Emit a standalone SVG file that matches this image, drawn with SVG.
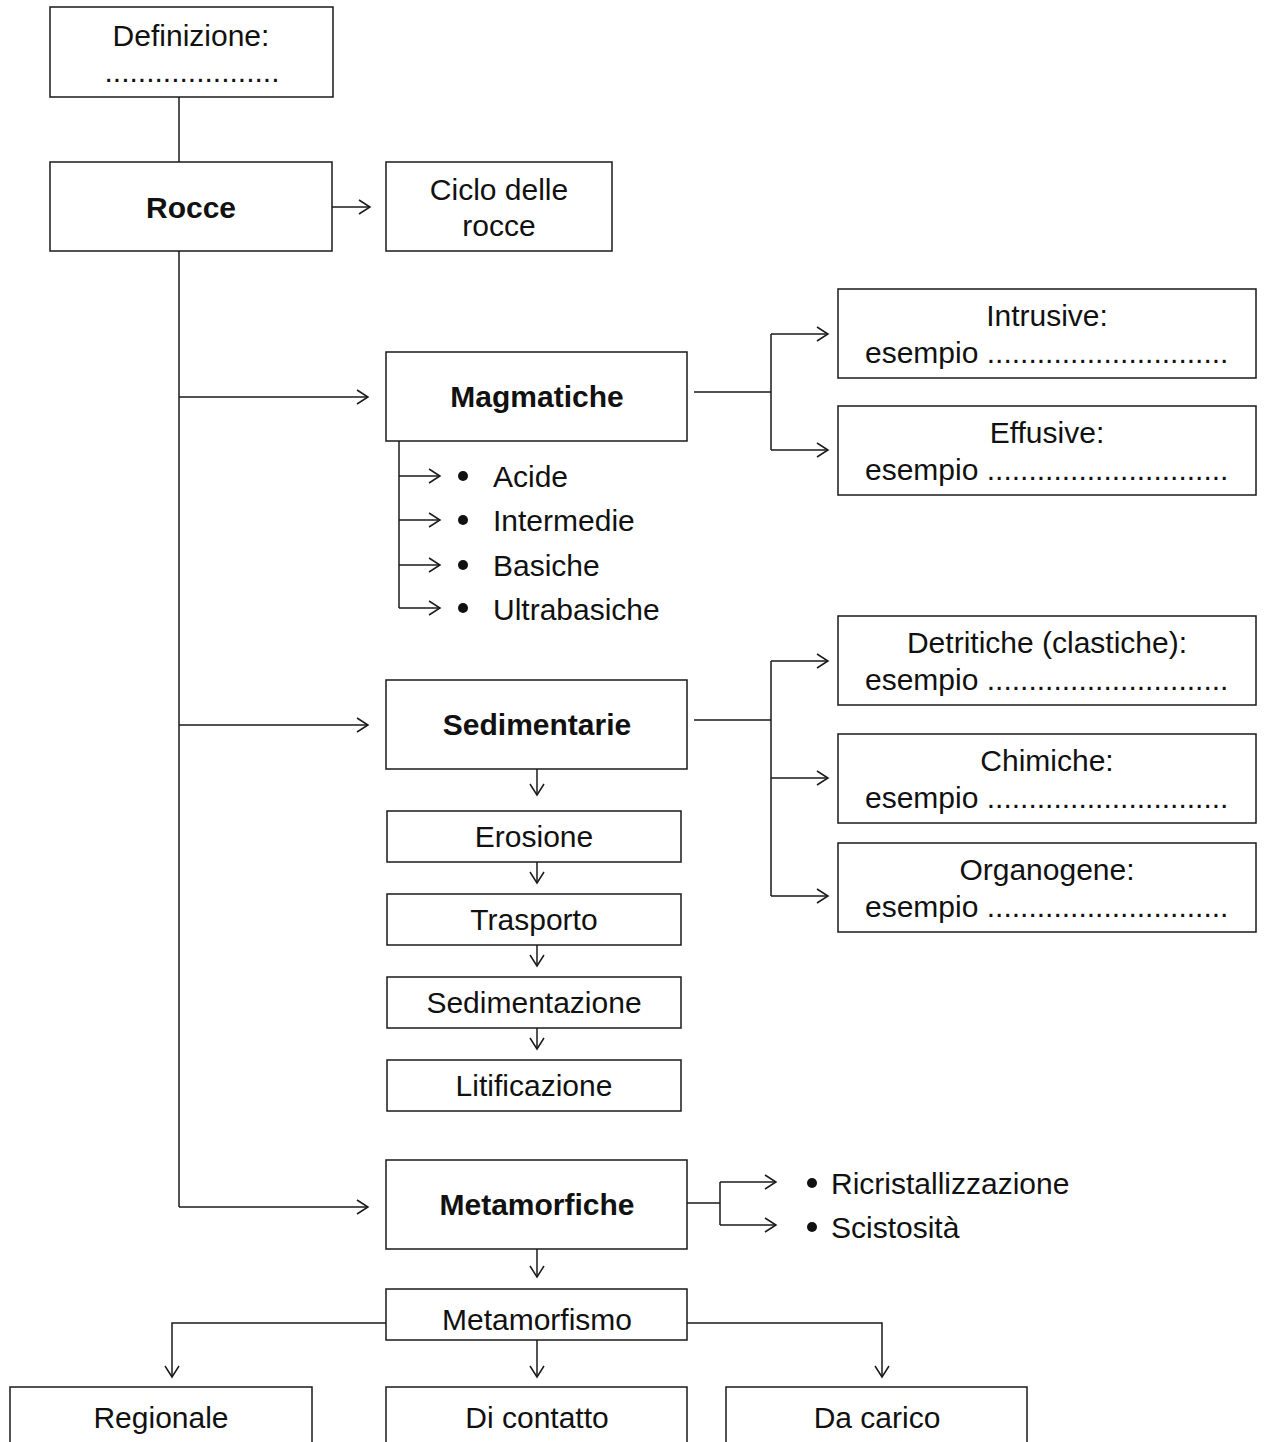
<svg xmlns="http://www.w3.org/2000/svg" width="1266" height="1442" viewBox="0 0 1266 1442">
<style>
.box{fill:#fff;stroke:#1a1a1a;stroke-width:1.5}
.ln{fill:none;stroke:#1a1a1a;stroke-width:1.5}
text{font-family:"Liberation Sans",Arial,sans-serif;font-size:30px;fill:#111}
.c{text-anchor:middle}
.b{font-weight:bold}
</style>
<defs>
<marker id="ah" markerUnits="userSpaceOnUse" markerWidth="14" markerHeight="18" refX="12" refY="8" orient="auto">
<path d="M1,1 L12,8 L1,15" fill="none" stroke="#1a1a1a" stroke-width="1.5"/>
</marker>
</defs>
<rect width="1266" height="1442" fill="#fff"/>
<g id="connectors">
<line class="ln" x1="179" y1="97" x2="179" y2="162"/>
<line class="ln" x1="332" y1="207" x2="370" y2="207" marker-end="url(#ah)"/>
<line class="ln" x1="179" y1="251" x2="179" y2="1207"/>
<line class="ln" x1="179" y1="397" x2="368" y2="397" marker-end="url(#ah)"/>
<line class="ln" x1="179" y1="725" x2="368" y2="725" marker-end="url(#ah)"/>
<line class="ln" x1="179" y1="1207" x2="368" y2="1207" marker-end="url(#ah)"/>
<path class="ln" d="M399,441 V608"/>
<line class="ln" x1="399" y1="476" x2="440" y2="476" marker-end="url(#ah)"/>
<line class="ln" x1="399" y1="520" x2="440" y2="520" marker-end="url(#ah)"/>
<line class="ln" x1="399" y1="565" x2="440" y2="565" marker-end="url(#ah)"/>
<line class="ln" x1="399" y1="608" x2="440" y2="608" marker-end="url(#ah)"/>
<path class="ln" d="M694,392 H771 M771,334 V450"/>
<line class="ln" x1="771" y1="334" x2="828" y2="334" marker-end="url(#ah)"/>
<line class="ln" x1="771" y1="450" x2="828" y2="450" marker-end="url(#ah)"/>
<path class="ln" d="M694,720 H771 M771,661 V896"/>
<line class="ln" x1="771" y1="661" x2="828" y2="661" marker-end="url(#ah)"/>
<line class="ln" x1="771" y1="778" x2="828" y2="778" marker-end="url(#ah)"/>
<line class="ln" x1="771" y1="896" x2="828" y2="896" marker-end="url(#ah)"/>
<line class="ln" x1="537" y1="769" x2="537" y2="795" marker-end="url(#ah)"/>
<line class="ln" x1="537" y1="862" x2="537" y2="883" marker-end="url(#ah)"/>
<line class="ln" x1="537" y1="945" x2="537" y2="966" marker-end="url(#ah)"/>
<line class="ln" x1="537" y1="1028" x2="537" y2="1049" marker-end="url(#ah)"/>
<path class="ln" d="M687,1203 H720 M720,1182 V1225"/>
<line class="ln" x1="720" y1="1182" x2="776" y2="1182" marker-end="url(#ah)"/>
<line class="ln" x1="720" y1="1225" x2="776" y2="1225" marker-end="url(#ah)"/>
<line class="ln" x1="537" y1="1249" x2="537" y2="1277" marker-end="url(#ah)"/>
<path class="ln" d="M386,1323 H172 V1377" marker-end="url(#ah)"/>
<path class="ln" d="M687,1323 H882 V1377" marker-end="url(#ah)"/>
<line class="ln" x1="537" y1="1340" x2="537" y2="1377" marker-end="url(#ah)"/>
</g>
<g id="definizione">
<rect class="box" x="50" y="7" width="283" height="90"/>
<text class="c" x="191" y="46">Definizione:</text>
<text class="c" x="192" y="82">.....................</text>
</g>
<g id="rocce">
<rect class="box" x="50" y="162" width="282" height="89"/>
<text class="c b" x="191" y="218">Rocce</text>
</g>
<g id="ciclo">
<rect class="box" x="386" y="162" width="226" height="89"/>
<text class="c" x="499" y="200">Ciclo delle</text>
<text class="c" x="499" y="236">rocce</text>
</g>
<g id="magmatiche">
<rect class="box" x="386" y="352" width="301" height="89"/>
<text class="c b" x="537" y="407">Magmatiche</text>
</g>
<g id="magma-list">
<circle cx="463" cy="476" r="5" fill="#111"/>
<text x="493" y="487">Acide</text>
<circle cx="463" cy="520" r="5" fill="#111"/>
<text x="493" y="531">Intermedie</text>
<circle cx="463" cy="565" r="5" fill="#111"/>
<text x="493" y="576">Basiche</text>
<circle cx="463" cy="608" r="5" fill="#111"/>
<text x="493" y="620">Ultrabasiche</text>
</g>
<g id="intrusive">
<rect class="box" x="838" y="289" width="418" height="89"/>
<text class="c" x="1047" y="326">Intrusive:</text>
<text x="865" y="363">esempio .............................</text>
</g>
<g id="effusive">
<rect class="box" x="838" y="406" width="418" height="89"/>
<text class="c" x="1047" y="443">Effusive:</text>
<text x="865" y="480">esempio .............................</text>
</g>
<g id="sedimentarie">
<rect class="box" x="386" y="680" width="301" height="89"/>
<text class="c b" x="537" y="735">Sedimentarie</text>
</g>
<g id="detritiche">
<rect class="box" x="838" y="616" width="418" height="89"/>
<text class="c" x="1047" y="653">Detritiche (clastiche):</text>
<text x="865" y="690">esempio .............................</text>
</g>
<g id="chimiche">
<rect class="box" x="838" y="734" width="418" height="89"/>
<text class="c" x="1047" y="771">Chimiche:</text>
<text x="865" y="808">esempio .............................</text>
</g>
<g id="organogene">
<rect class="box" x="838" y="843" width="418" height="89"/>
<text class="c" x="1047" y="880">Organogene:</text>
<text x="865" y="917">esempio .............................</text>
</g>
<g id="erosione">
<rect class="box" x="387" y="811" width="294" height="51"/>
<text class="c" x="534" y="847">Erosione</text>
</g>
<g id="trasporto">
<rect class="box" x="387" y="894" width="294" height="51"/>
<text class="c" x="534" y="930">Trasporto</text>
</g>
<g id="sedimentazione">
<rect class="box" x="387" y="977" width="294" height="51"/>
<text class="c" x="534" y="1013">Sedimentazione</text>
</g>
<g id="litificazione">
<rect class="box" x="387" y="1060" width="294" height="51"/>
<text class="c" x="534" y="1096">Litificazione</text>
</g>
<g id="metamorfiche">
<rect class="box" x="386" y="1160" width="301" height="89"/>
<text class="c b" x="537" y="1215">Metamorfiche</text>
</g>
<g id="meta-list">
<circle cx="812" cy="1183" r="5" fill="#111"/>
<text x="831" y="1194">Ricristallizzazione</text>
<circle cx="812" cy="1227" r="5" fill="#111"/>
<text x="831" y="1238">Scistosità</text>
</g>
<g id="metamorfismo">
<rect class="box" x="386" y="1289" width="301" height="51"/>
<text class="c" x="537" y="1330">Metamorfismo</text>
</g>
<g id="regionale">
<rect class="box" x="10" y="1387" width="302" height="80"/>
<text class="c" x="161" y="1428">Regionale</text>
</g>
<g id="dicontatto">
<rect class="box" x="386" y="1387" width="301" height="80"/>
<text class="c" x="537" y="1428">Di contatto</text>
</g>
<g id="dacarico">
<rect class="box" x="726" y="1387" width="301" height="80"/>
<text class="c" x="877" y="1428">Da carico</text>
</g>
</svg>
